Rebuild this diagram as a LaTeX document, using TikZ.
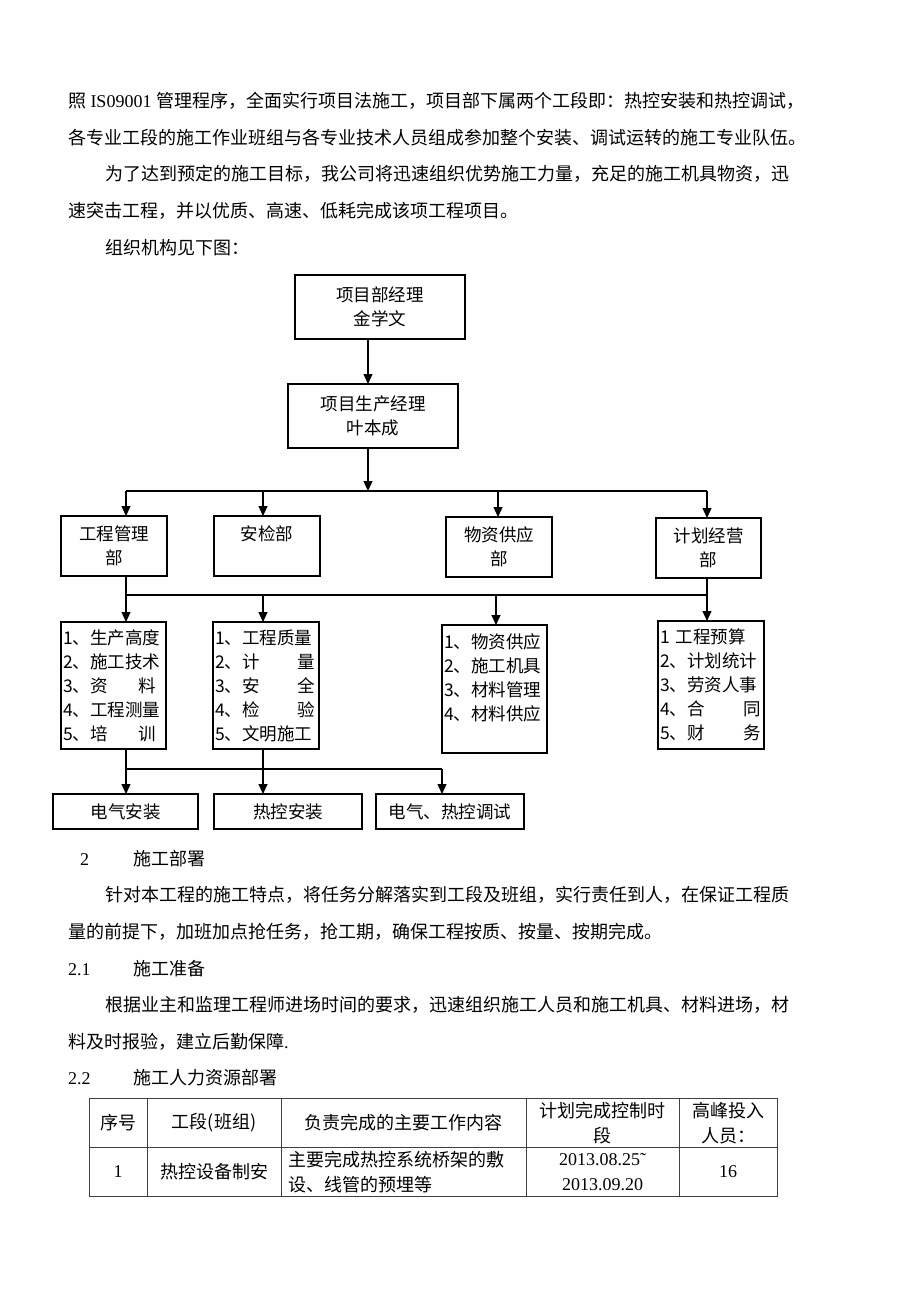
\documentclass[tikz,border=0pt]{standalone}
\usepackage{fontspec}
\setmainfont{Noto Sans CJK SC}
\newfontfamily\mono{Liberation Serif}
\usetikzlibrary{arrows.meta}
\newcommand{\dist}[3]{\makebox[#1][l]{#2\hfill #3}}
\begin{document}
\begin{tikzpicture}[x=1pt,y=-1pt,
  every node/.style={inner sep=0pt, outer sep=0pt},
  body/.style={anchor=base west, font=\fontsize{18}{22}\selectfont},
  box/.style={draw, line width=1.1pt, anchor=north west, align=center,
              font=\fontsize{17.5}{24}\selectfont},
  lstbox/.style={draw, line width=1.1pt, anchor=north west, align=left,
              font=\fontsize{17.5}{24}\selectfont},
  arr/.style={line width=1.2pt, -{Triangle[width=9pt,length=10pt]}},
  ln/.style={line width=1.2pt},
  tbl/.style={line width=0.9pt, black!75},
  cell/.style={align=center, font=\fontsize{18}{25}\selectfont},
]
\fill[white] (0,0) rectangle (920,1302);
\useasboundingbox (0,0) rectangle (920,1302);

% ---------- body text top ----------
\node[body] (p1) at (68,107) {照{\mono\ IS09001 }管理程序，全面实行项目法施工，项目部下属两个工段即：热控安装和热控调试，};
\node[body] (p2) at (68,144) {各专业工段的施工作业班组与各专业技术人员组成参加整个安装、调试运转的施工专业队伍。};
\node[body] (p3) at (105,180) {为了达到预定的施工目标，我公司将迅速组织优势施工力量，充足的施工机具物资，迅};
\node[body] (p4) at (68,217) {速突击工程，并以优质、高速、低耗完成该项工程项目。};
\node[body] (p5) at (105,254) {组织机构见下图：};

% ---------- org chart ----------
\node[box, minimum width=170pt, minimum height=64pt] (b1) at (295,275) {项目部经理\\金学文};
\node[box, minimum width=170pt, minimum height=64pt] (b2) at (288,384) {项目生产经理\\叶本成};

\node[box, minimum width=106pt, minimum height=60pt] (d1) at (61,516) {工程管理\\部};
\node[box, minimum width=106pt, minimum height=60pt] (d2) at (214,516) {安检部\\\phantom{部}};
\node[box, minimum width=106pt, minimum height=60pt] (d3) at (446,517) {物资供应\\部};
\node[box, minimum width=105pt, minimum height=60pt] (d4) at (656,518) {计划经营\\部};

\node[lstbox, minimum width=105pt, minimum height=127pt, text width=101pt] (e1) at (61,622)
  {1、生产高度\\2、施工技术\\\dist{93pt}{3、资}{料}\\4、工程测量\\\dist{93pt}{5、培}{训}};
\node[lstbox, minimum width=106pt, minimum height=127pt, text width=102pt] (e2) at (213,622)
  {1、工程质量\\\dist{100pt}{2、计}{量}\\\dist{100pt}{3、安}{全}\\\dist{100pt}{4、检}{验}\\5、文明施工};
\node[lstbox, minimum width=105pt, minimum height=128pt, text width=101pt] (e3) at (442,625)
  {1、物资供应\\2、施工机具\\3、材料管理\\4、材料供应\\\phantom{1}};
\node[lstbox, minimum width=106pt, minimum height=128pt, text width=102pt] (e4) at (658,621)
  {1 工程预算\\2、计划统计\\3、劳资人事\\\dist{101pt}{4、合}{同}\\\dist{101pt}{5、财}{务}};

\node[box, minimum width=145pt, minimum height=35pt] (f1) at (53,794) {电气安装};
\node[box, minimum width=148pt, minimum height=35pt] (f2) at (214,794) {热控安装};
\node[box, minimum width=148pt, minimum height=35pt] (f3) at (376,794) {电气、热控调试};

% connectors
\coordinate (c0) at (368,491);
\coordinate (k1) at (126,491);
\coordinate (k2) at (263,491);
\coordinate (k3) at (498,491);
\coordinate (k4) at (707,491);
\draw[arr] (b1.south -| c0) -- (b2.north -| c0);
\draw[arr] (b2.south -| c0) -- (c0);
\draw[ln] (k1) -- (k4);
\draw[arr] (k1) -- (d1.north -| k1);
\draw[arr] (k2) -- (d2.north -| k2);
\draw[arr] (k3) -- (d3.north -| k3);
\draw[arr] (k4) -- (d4.north -| k4);

\coordinate (m1) at (126,595);
\coordinate (m2) at (263,595);
\coordinate (m3) at (496,595);
\coordinate (m4) at (707,595);
\draw[ln] (d1.south -| m1) -- (m1) -- (m4);
\draw[ln] (d4.south -| m4) -- (m4);
\draw[arr] (m1) -- (e1.north -| m1);
\draw[arr] (m2) -- (e2.north -| m2);
\draw[arr] (m3) -- (e3.north -| m3);
\draw[arr] (m4) -- (e4.north -| m4);

\coordinate (n1) at (126,769);
\coordinate (n2) at (263,769);
\coordinate (n3) at (442,769);
\draw[ln] (e1.south -| n1) -- (n1) -- (n3);
\draw[ln] (e2.south -| n2) -- (n2);
\draw[arr] (n1) -- (f1.north -| n1);
\draw[arr] (n2) -- (f2.north -| n2);
\draw[arr] (n3) -- (f3.north -| n3);

% ---------- section 2 ----------
\node[body] (s2n) at (80,865) {\mono 2};
\node[body] (s2t) at (133,865) {施工部署};
\node[body] (q1) at (105,901) {针对本工程的施工特点，将任务分解落实到工段及班组，实行责任到人，在保证工程质};
\node[body] (q2) at (68,938) {量的前提下，加班加点抢任务，抢工期，确保工程按质、按量、按期完成。};
\node[body] (s21n) at (68,975) {\mono 2.1};
\node[body] (s21t) at (133,975) {施工准备};
\node[body] (q3) at (105,1011) {根据业主和监理工程师进场时间的要求，迅速组织施工人员和施工机具、材料进场，材};
\node[body] (q4) at (68,1048) {料及时报验，建立后勤保障{\mono .}};
\node[body] (s22n) at (68,1084) {\mono 2.2};
\node[body] (s22t) at (133,1084) {施工人力资源部署};

% ---------- table ----------
\draw[tbl] (89,1098) rectangle (777,1196);
\draw[tbl] (89,1147) -- (777,1147);
\draw[tbl] (147,1098) -- (147,1196);
\draw[tbl] (281,1098) -- (281,1196);
\draw[tbl] (526,1098) -- (526,1196);
\draw[tbl] (679,1098) -- (679,1196);

\node[cell] (h1) at (118,1123) {序号};
\node[cell] (h2) at (214,1123) {工段(班组)};
\node[cell] (h3) at (403.5,1123) {负责完成的主要工作内容};
\node[cell] (h4) at (602.5,1123) {计划完成控制时\\段};
\node[cell] (h5) at (728,1123) {高峰投入\\人员：};
\node[cell] (r1) at (118,1172) {\mono 1};
\node[cell] (r2) at (214,1172) {热控设备制安};
\node[cell, anchor=west, align=left] (r3) at (288,1172) {主要完成热控系统桥架的敷\\设、线管的预埋等};
\node[cell] (r4) at (602.5,1172) {{\mono 2013.08.25\char"02DC}\\{\mono 2013.09.20}};
\node[cell] (r5) at (728,1172) {\mono 16};
\end{tikzpicture}
\end{document}
